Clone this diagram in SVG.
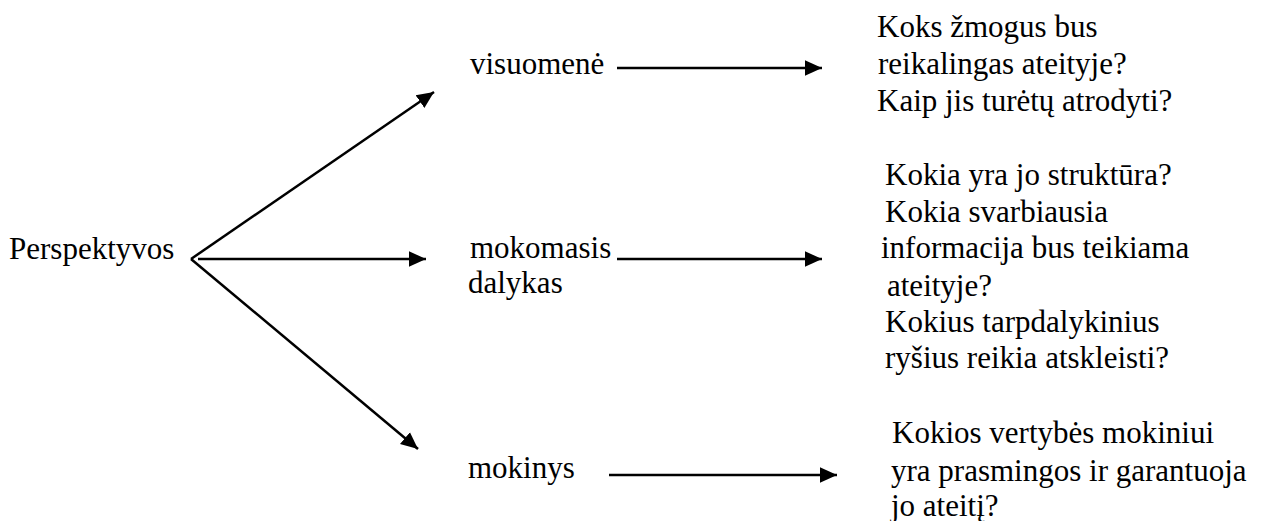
<svg xmlns="http://www.w3.org/2000/svg" width="1275" height="521" viewBox="0 0 1275 521">
<style>
.t{font-family:'Liberation Serif','Times New Roman',serif;font-size:31px;fill:#000}
.c{stroke:#000;stroke-width:2.5;fill:none}
</style>
<defs>
<marker id="ah" markerWidth="8" markerHeight="8" refX="6.8" refY="4" orient="auto" markerUnits="strokeWidth" viewBox="0 0 8 8">
<path d="M0,0.9 L6.8,4 L0,7.1 Z" fill="#000"/>
</marker>
</defs>
<rect width="1275" height="521" fill="#fff"/>
<g id="connectors">
<line class="c" x1="191" y1="259" x2="434" y2="92" marker-end="url(#ah)"/>
<line class="c" x1="191" y1="259" x2="418" y2="449" marker-end="url(#ah)"/>
<line class="c" x1="198" y1="259" x2="426" y2="259" marker-end="url(#ah)"/>
<line class="c" x1="617" y1="68" x2="822" y2="68" marker-end="url(#ah)"/>
<line class="c" x1="617" y1="259" x2="822" y2="259" marker-end="url(#ah)"/>
<line class="c" x1="609" y1="475" x2="837" y2="475" marker-end="url(#ah)"/>
</g>
<g id="perspektyvos"><text class="t" x="9" y="259">Perspektyvos</text></g>
<g id="visuomene"><text class="t" x="470" y="74">visuomenė</text></g>
<g id="mokomasis"><text class="t" x="470" y="258">mokomasis</text><text class="t" x="468" y="293">dalykas</text></g>
<g id="mokinys"><text class="t" x="468" y="478">mokinys</text></g>
<g id="q1">
<text class="t" x="877" y="37">Koks žmogus bus</text>
<text class="t" x="878" y="74">reikalingas ateityje?</text>
<text class="t" x="877" y="111">Kaip jis turėtų atrodyti?</text>
</g>
<g id="q2">
<text class="t" x="885" y="185">Kokia yra jo struktūra?</text>
<text class="t" x="885" y="222">Kokia svarbiausia</text>
<text class="t" x="881" y="258">informacija bus teikiama</text>
<text class="t" x="887" y="296">ateityje?</text>
<text class="t" x="885" y="332">Kokius tarpdalykinius</text>
<text class="t" x="885" y="368">ryšius reikia atskleisti?</text>
</g>
<g id="q3">
<text class="t" x="892" y="443">Kokios vertybės mokiniui</text>
<text class="t" x="891" y="481">yra prasmingos ir garantuoja</text>
<text class="t" x="891" y="516">jo ateitį?</text>
</g>
</svg>
